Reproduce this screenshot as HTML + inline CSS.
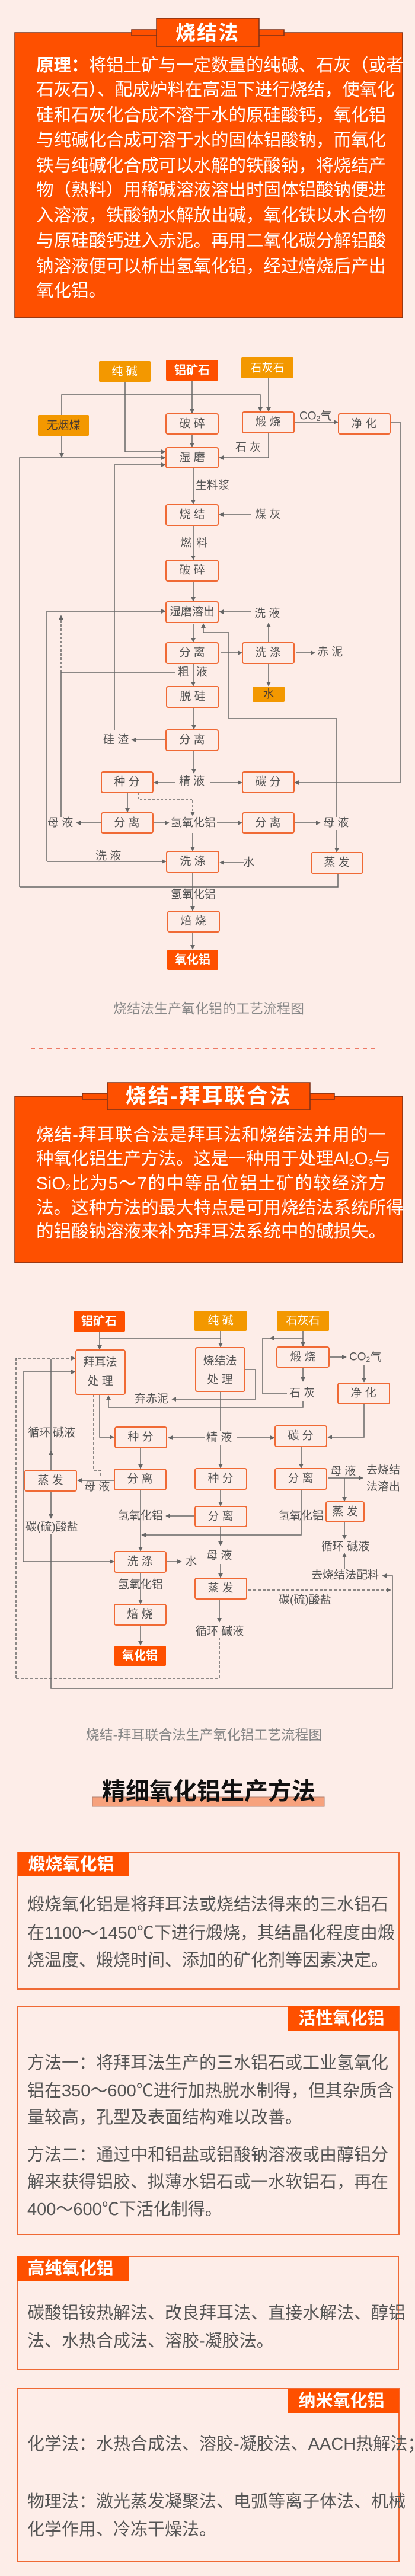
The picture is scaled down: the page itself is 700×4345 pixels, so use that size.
<!DOCTYPE html>
<html><head><meta charset="utf-8">
<style>
html,body{margin:0;padding:0;}
body{width:700px;height:4345px;background:#fdede8;position:relative;overflow:hidden;font-family:"Liberation Sans","Noto Sans CJK SC",sans-serif;}
svg{position:absolute;left:0;top:0;}
.l{position:absolute;white-space:nowrap;text-align:justify;text-align-last:justify;}
.w{color:#fff;font-size:29.5px;height:42px;line-height:42px;left:61px;width:590px;}
.g{color:#555;font-size:29px;height:46px;line-height:46px;left:46px;width:609px;}
.n{text-align:left;text-align-last:left;}
</style></head><body>
<svg width="700" height="4345" viewBox="0 0 700 4345" font-family="Liberation Sans, Noto Sans CJK SC, sans-serif">
<defs>
<marker id="a" viewBox="0 0 10 10" refX="9" refY="5" markerWidth="8" markerHeight="8" markerUnits="userSpaceOnUse" orient="auto"><path d="M0,0 L10,5 L0,10 z" fill="#666"/></marker>
</defs>
<!-- Section 1 -->
<rect x="25" y="55" width="654" height="481" fill="#fe5000" stroke="#7a3018" stroke-width="1.5"/>
<rect x="222" y="50" width="257" height="10" fill="#fe5000" stroke="#7a3018" stroke-width="1.5"/>
<rect x="264" y="31" width="173" height="48" fill="#fe5000" stroke="#7a3018" stroke-width="1.5"/>
<text x="350" y="56" font-size="34" font-weight="bold" fill="#fff" text-anchor="middle" dominant-baseline="central" letter-spacing="2">烧结法</text>

<g stroke="#666" stroke-width="1.5" fill="none">
<!-- flowchart 1 lines -->
<path d="M324 642V697" marker-end="url(#a)"/>
<path d="M453 638V694" marker-end="url(#a)"/>
<path d="M104 700V666H439V694" marker-end="url(#a)"/>
<path d="M211 644V762H279" marker-end="url(#a)"/>
<path d="M104 735V771" marker-end="url(#a)"/>
<path d="M33 1496V772H279" marker-end="url(#a)"/>
<path d="M324 732V754" marker-end="url(#a)"/>
<path d="M496 712H570" marker-end="url(#a)"/>
<path d="M453 730V772H370" marker-end="url(#a)"/>
<path d="M658 712H675V1320H497" marker-end="url(#a)"/>
<path d="M193 1232V784H279" marker-end="url(#a)"/>
<path d="M326 789V850" marker-end="url(#a)"/>
<path d="M423 868H370" marker-end="url(#a)"/>
<path d="M326 886V944" marker-end="url(#a)"/>
<path d="M326 980V1014" marker-end="url(#a)"/>
<path d="M423 1032H370" marker-end="url(#a)"/>
<path d="M326 1052V1083" marker-end="url(#a)"/>
<path d="M79 1453V1031H279" marker-end="url(#a)"/>
<path d="M79 1453H280" marker-end="url(#a)"/>
<path d="M103 1134V1038" stroke-dasharray="4,3" marker-end="url(#a)"/>
<path d="M103 1134V1378"/>
<path d="M103 1134H295"/>
<path d="M326 1119V1157" marker-end="url(#a)"/>
<path d="M373 1101H408" marker-end="url(#a)"/>
<path d="M500 1101H531" marker-end="url(#a)"/>
<path d="M453 1084V1051" marker-end="url(#a)"/>
<path d="M453 1119V1157" marker-end="url(#a)"/>
<path d="M568 1378V1212H386V1067H343V1052" marker-end="url(#a)"/>
<path d="M568 1400V1437" marker-end="url(#a)"/>
<path d="M327 1193V1230" marker-end="url(#a)"/>
<path d="M279 1248H222" marker-end="url(#a)"/>
<path d="M327 1266V1304" marker-end="url(#a)"/>
<path d="M296 1320H260" marker-end="url(#a)"/>
<path d="M354 1320H408" marker-end="url(#a)"/>
<path d="M215 1337V1370" marker-end="url(#a)"/>
<path d="M233 1337V1348H325V1376" stroke-dasharray="4,3" marker-end="url(#a)"/>
<path d="M171 1388H129" marker-end="url(#a)"/>
<path d="M259 1388H285" marker-end="url(#a)"/>
<path d="M366 1388H408" marker-end="url(#a)"/>
<path d="M497 1388H540" marker-end="url(#a)"/>
<path d="M325 1405V1435" marker-end="url(#a)"/>
<path d="M412 1455H371" marker-end="url(#a)"/>
<path d="M325 1471V1536" marker-end="url(#a)"/>
<path d="M33 1496H570V1473"/>
<path d="M325 1572V1601" marker-end="url(#a)"/>
</g>

<g font-size="19" fill="#555" dominant-baseline="central">
<text x="505" y="702">CO<tspan font-size="12" dy="4">2</tspan><tspan dy="-4">气</tspan></text>
<text x="397" y="755">石 灰</text>
<text x="330" y="819">生料浆</text>
<text x="430" y="868">煤 灰</text>
<text x="304" y="916">燃</text><text x="331" y="916">料</text>
<text x="429" y="1035">洗 液</text>
<text x="535" y="1100">赤 泥</text>
<text x="300" y="1134">粗</text><text x="331" y="1134">液</text>
<text x="174" y="1248">硅 渣</text>
<text x="302" y="1318">精 液</text>
<text x="80" y="1388">母 液</text>
<text x="288" y="1388">氢氧化铝</text>
<text x="545" y="1388">母 液</text>
<text x="161" y="1444">洗 液</text>
<text x="410" y="1455">水</text>
<text x="288" y="1509">氢氧化铝</text>
</g>

<g stroke="#f06a35" stroke-width="2" fill="#fdede8">
<rect x="280" y="698" width="88" height="34" rx="3"/>
<rect x="409" y="695" width="87" height="35" rx="3"/>
<rect x="571" y="698" width="87" height="34" rx="3"/>
<rect x="280" y="755" width="88" height="34" rx="3"/>
<rect x="280" y="851" width="88" height="35" rx="3"/>
<rect x="280" y="945" width="88" height="35" rx="3"/>
<rect x="280" y="1015" width="88" height="35" rx="3"/>
<rect x="280" y="1084" width="88" height="35" rx="3"/>
<rect x="409" y="1084" width="87" height="35" rx="3"/>
<rect x="281" y="1158" width="88" height="35" rx="3"/>
<rect x="280" y="1231" width="88" height="35" rx="3"/>
<rect x="171" y="1302" width="87" height="35" rx="3"/>
<rect x="409" y="1302" width="87" height="35" rx="3"/>
<rect x="171" y="1371" width="87" height="34" rx="3"/>
<rect x="409" y="1371" width="87" height="34" rx="3"/>
<rect x="281" y="1436" width="88" height="35" rx="3"/>
<rect x="525" y="1438" width="87" height="35" rx="3"/>
<rect x="283" y="1537" width="87" height="35" rx="3"/>
</g>
<rect x="167" y="609" width="87" height="35" rx="2" fill="#f39800"/>
<rect x="280" y="607" width="88" height="35" rx="2" fill="#fe5000"/>
<rect x="407" y="603" width="88" height="35" rx="2" fill="#f39800"/>
<rect x="64" y="700" width="86" height="35" rx="2" fill="#f39800"/>
<rect x="426" y="1158" width="54" height="26" rx="2" fill="#f39800"/>
<rect x="282" y="1602" width="86" height="34" rx="2" fill="#fe5000"/>
<g font-size="19" text-anchor="middle" dominant-baseline="central" fill="#555">
<text x="210" y="627" fill="#fff">纯 碱</text>
<text x="324" y="625" fill="#fff" font-weight="bold" font-size="20">铝矿石</text>
<text x="451" y="621" fill="#fff">石灰石</text>
<text x="107" y="718" fill="#4a3a30">无烟煤</text>
<text x="453" y="1171" fill="#4a3a30">水</text>
<text x="325" y="1619" fill="#fff" font-weight="bold" font-size="20">氧化铝</text>
<text x="324" y="715">破 碎</text>
<text x="452" y="712">煅 烧</text>
<text x="614" y="715">净 化</text>
<text x="324" y="772">湿 磨</text>
<text x="324" y="868">烧 结</text>
<text x="324" y="962">破 碎</text>
<text x="324" y="1032">湿磨溶出</text>
<text x="324" y="1101">分 离</text>
<text x="452" y="1101">洗 涤</text>
<text x="325" y="1175">脱 硅</text>
<text x="324" y="1248">分 离</text>
<text x="214" y="1319">种 分</text>
<text x="452" y="1319">碳 分</text>
<text x="214" y="1388">分 离</text>
<text x="452" y="1388">分 离</text>
<text x="325" y="1453">洗 涤</text>
<text x="568" y="1455">蒸 发</text>
<text x="326" y="1554">焙 烧</text>
</g>
<text x="352" y="1701" font-size="23" fill="#888" text-anchor="middle" dominant-baseline="central">烧结法生产氧化铝的工艺流程图</text>

<line x1="52" y1="1769" x2="634" y2="1769" stroke="#e8553a" stroke-width="1.5" stroke-dasharray="7,7"/>

<!-- Section 2 -->
<rect x="25" y="1849" width="654" height="281" fill="#fe5000" stroke="#7a3018" stroke-width="1.5"/>
<rect x="139" y="1844" width="425" height="10" fill="#fe5000" stroke="#7a3018" stroke-width="1.5"/>
<rect x="181" y="1826" width="342" height="46" fill="#fe5000" stroke="#7a3018" stroke-width="1.5"/>
<text x="352" y="1849" font-size="35" font-weight="bold" fill="#fff" text-anchor="middle" dominant-baseline="central" letter-spacing="3">烧结-拜耳联合法</text>

<g stroke="#666" stroke-width="1.5" fill="none">
<path d="M168 2246V2276" marker-end="url(#a)"/>
<path d="M168 2257H372"/>
<path d="M372 2244V2272" marker-end="url(#a)"/>
<path d="M511 2244V2271" marker-end="url(#a)"/>
<path d="M511 2257H455" marker-end="url(#a)"/>
<path d="M455 2257H443V2351H484"/>
<path d="M511 2306V2330" marker-end="url(#a)"/>
<path d="M511 2363V2374H183V2354" marker-end="url(#a)"/>
<path d="M557 2289H584" marker-end="url(#a)"/>
<path d="M614 2303V2331" marker-end="url(#a)"/>
<path d="M614 2368V2424H553" marker-end="url(#a)"/>
<path d="M413 2310H431V2360H290" marker-end="url(#a)"/>
<path d="M27 2831V2291H127" stroke-dasharray="5,3" marker-end="url(#a)"/>
<path d="M27 2831H370V2763" stroke-dasharray="5,3"/>
<path d="M39 2634V2314H127" marker-end="url(#a)"/>
<path d="M39 2634H192" marker-end="url(#a)"/>
<path d="M86 2480V2447" marker-end="url(#a)"/>
<path d="M86 2450V2293"/>
<path d="M168 2352V2424H192" marker-end="url(#a)"/>
<path d="M158 2352V2480H170V2490" stroke-dasharray="5,3"/>
<path d="M372 2347V2413"/>
<path d="M345 2425H284" marker-end="url(#a)"/>
<path d="M400 2425H463" marker-end="url(#a)"/>
<path d="M372 2437V2476" marker-end="url(#a)"/>
<path d="M237 2442V2477" marker-end="url(#a)"/>
<path d="M508 2440V2476" marker-end="url(#a)"/>
<path d="M193 2497H131" marker-end="url(#a)"/>
<path d="M553 2493H612" marker-end="url(#a)"/>
<path d="M581 2493V2532" marker-end="url(#a)"/>
<path d="M86 2515V2561" marker-end="url(#a)"/>
<path d="M86 2588V2848H662V2658H645" marker-end="url(#a)"/>
<path d="M237 2513V2616" marker-end="url(#a)"/>
<path d="M329 2557H280" marker-end="url(#a)"/>
<path d="M372 2512V2540" marker-end="url(#a)"/>
<path d="M508 2512V2589H239" marker-end="url(#a)"/>
<path d="M581 2567V2596" marker-end="url(#a)"/>
<path d="M581 2646V2620" marker-end="url(#a)"/>
<path d="M372 2575V2607" marker-end="url(#a)"/>
<path d="M372 2638V2661" marker-end="url(#a)"/>
<path d="M281 2634H306" marker-end="url(#a)"/>
<path d="M237 2652V2705" marker-end="url(#a)"/>
<path d="M419 2682H659" stroke-dasharray="5,3" marker-end="url(#a)"/>
<path d="M370 2697V2736" marker-end="url(#a)"/>
<path d="M237 2741V2775" marker-end="url(#a)"/>
</g>
<g font-size="19" fill="#555" dominant-baseline="central">
<text x="589" y="2289">CO<tspan font-size="12" dy="4">2</tspan><tspan dy="-4">气</tspan></text>
<text x="488" y="2350">石 灰</text>
<text x="227" y="2360">弃赤泥</text>
<text x="47" y="2417">循环</text><text x="89" y="2417">碱液</text>
<text x="348" y="2425">精 液</text>
<text x="142" y="2508">母 液</text>
<text x="557" y="2482">母 液</text>
<text x="618" y="2480">去烧结</text>
<text x="618" y="2508">法溶出</text>
<text x="43" y="2576">碳(硫)酸盐</text>
<text x="199" y="2557">氢氧化铝</text>
<text x="470" y="2557">氢氧化铝</text>
<text x="542" y="2609">循环 碱液</text>
<text x="525" y="2657">去烧结法配料</text>
<text x="348" y="2624">母 液</text>
<text x="313" y="2634">水</text>
<text x="199" y="2673">氢氧化铝</text>
<text x="470" y="2699">碳(硫)酸盐</text>
<text x="330" y="2752">循环 碱液</text>
</g>
<g stroke="#f06a35" stroke-width="2" fill="#fdede8">
<rect x="128" y="2277" width="83" height="75" rx="3"/>
<rect x="330" y="2273" width="83" height="74" rx="3"/>
<rect x="467" y="2272" width="88" height="34" rx="3"/>
<rect x="570" y="2333" width="87" height="35" rx="3"/>
<rect x="194" y="2407" width="87" height="35" rx="3"/>
<rect x="464" y="2405" width="87" height="35" rx="3"/>
<rect x="193" y="2478" width="87" height="35" rx="3"/>
<rect x="329" y="2477" width="87" height="35" rx="3"/>
<rect x="464" y="2477" width="87" height="35" rx="3"/>
<rect x="42" y="2480" width="87" height="35" rx="3"/>
<rect x="329" y="2541" width="87" height="34" rx="3"/>
<rect x="550" y="2533" width="64" height="34" rx="3"/>
<rect x="193" y="2617" width="87" height="35" rx="3"/>
<rect x="329" y="2662" width="87" height="35" rx="3"/>
<rect x="193" y="2706" width="87" height="35" rx="3"/>
</g>
<rect x="124" y="2212" width="87" height="34" rx="2" fill="#fe5000"/>
<rect x="328" y="2211" width="88" height="34" rx="2" fill="#f39800"/>
<rect x="467" y="2211" width="88" height="34" rx="2" fill="#f39800"/>
<rect x="193" y="2776" width="87" height="34" rx="2" fill="#fe5000"/>
<g font-size="19" text-anchor="middle" dominant-baseline="central" fill="#555">
<text x="167" y="2229" fill="#fff" font-weight="bold" font-size="20">铝矿石</text>
<text x="372" y="2228" fill="#fff">纯 碱</text>
<text x="511" y="2228" fill="#fff">石灰石</text>
<text x="236" y="2793" fill="#fff" font-weight="bold" font-size="20">氧化铝</text>
<text x="169" y="2298">拜耳法</text>
<text x="169" y="2330">处 理</text>
<text x="371" y="2296">烧结法</text>
<text x="371" y="2327">处 理</text>
<text x="511" y="2289">煅 烧</text>
<text x="613" y="2350">净 化</text>
<text x="237" y="2424">种 分</text>
<text x="507" y="2422">碳 分</text>
<text x="236" y="2495">分 离</text>
<text x="372" y="2494">种 分</text>
<text x="507" y="2494">分 离</text>
<text x="85" y="2497">蒸 发</text>
<text x="372" y="2558">分 离</text>
<text x="582" y="2550">蒸 发</text>
<text x="236" y="2634">洗 涤</text>
<text x="372" y="2679">蒸 发</text>
<text x="236" y="2723">焙 烧</text>
</g>
<text x="344" y="2926" font-size="23" fill="#888" text-anchor="middle" dominant-baseline="central">烧结-拜耳联合法生产氧化铝工艺流程图</text>

<!-- Section 3 -->
<rect x="156" y="3031" width="391" height="16" fill="#f7a27d" stroke="#b08070" stroke-width="1"/>
<text x="352" y="3022" font-size="40" font-weight="bold" fill="#111" text-anchor="middle" dominant-baseline="central">精细氧化铝生产方法</text>

<rect x="30" y="3124" width="643" height="231" fill="none" stroke="#f06a35" stroke-width="2"/>
<rect x="30" y="3124" width="187" height="41" fill="#fe5000"/>
<text x="120" y="3145" font-size="29" font-weight="bold" fill="#fff" text-anchor="middle" dominant-baseline="central">煅烧氧化铝</text>

<rect x="30" y="3384" width="643" height="385" fill="none" stroke="#f06a35" stroke-width="2"/>
<rect x="486" y="3384" width="187" height="42" fill="#fe5000"/>
<text x="576" y="3405" font-size="29" font-weight="bold" fill="#fff" text-anchor="middle" dominant-baseline="central">活性氧化铝</text>

<rect x="29" y="3806" width="643" height="191" fill="none" stroke="#f06a35" stroke-width="2"/>
<rect x="29" y="3806" width="188" height="41" fill="#fe5000"/>
<text x="119" y="3827" font-size="29" font-weight="bold" fill="#fff" text-anchor="middle" dominant-baseline="central">高纯氧化铝</text>

<rect x="30" y="4029" width="643" height="292" fill="none" stroke="#f06a35" stroke-width="2"/>
<rect x="485" y="4029" width="188" height="41" fill="#fe5000"/>
<text x="576" y="4050" font-size="29" font-weight="bold" fill="#fff" text-anchor="middle" dominant-baseline="central">纳米氧化铝</text>
</svg>

<div class="l w" style="top:90px"><b>原理：</b>将铝土矿与一定数量的纯碱、石灰（或者</div>
<div class="l w" style="top:131px">石灰石）、配成炉料在高温下进行烧结，使氧化</div>
<div class="l w" style="top:174px">硅和石灰化合成不溶于水的原硅酸钙，氧化铝</div>
<div class="l w" style="top:216px">与纯碱化合成可溶于水的固体铝酸钠，而氧化</div>
<div class="l w" style="top:259px">铁与纯碱化合成可以水解的铁酸钠，将烧结产</div>
<div class="l w" style="top:300px">物（熟料）用稀碱溶液溶出时固体铝酸钠便进</div>
<div class="l w" style="top:343px">入溶液，铁酸钠水解放出碱，氧化铁以水合物</div>
<div class="l w" style="top:386px">与原硅酸钙进入赤泥。再用二氧化碳分解铝酸</div>
<div class="l w" style="top:429px">钠溶液便可以析出氢氧化铝，经过焙烧后产出</div>
<div class="l w n" style="top:470px">氧化铝。</div>

<div class="l w" style="top:1894px">烧结-拜耳联合法是拜耳法和烧结法并用的一</div>
<div class="l w" style="top:1934px">种氧化铝生产方法。这是一种用于处理Al<sub style="font-size:16px;vertical-align:-2px">2</sub>O<sub style="font-size:16px;vertical-align:-2px">3</sub>与</div>
<div class="l w" style="top:1976px">SiO<sub style="font-size:16px;vertical-align:-2px">2</sub>比为5～7的中等品位铝土矿的较经济方</div>
<div class="l w" style="top:2017px">法。这种方法的最大特点是可用烧结法系统所得</div>
<div class="l w n" style="top:2057px">的铝酸钠溶液来补充拜耳法系统中的碱损失。</div>

<div class="l g" style="top:3190px">煅烧氧化铝是将拜耳法或烧结法得来的三水铝石</div>
<div class="l g" style="top:3238px">在1100～1450℃下进行煅烧，其结晶化程度由煅</div>
<div class="l g n" style="top:3284px">烧温度、煅烧时间、添加的矿化剂等因素决定。</div>

<div class="l g" style="top:3457px">方法一：将拜耳法生产的三水铝石或工业氢氧化</div>
<div class="l g" style="top:3504px">铝在350～600℃进行加热脱水制得，但其杂质含</div>
<div class="l g n" style="top:3549px">量较高，孔型及表面结构难以改善。</div>
<div class="l g" style="top:3612px">方法二：通过中和铝盐或铝酸钠溶液或由醇铝分</div>
<div class="l g" style="top:3658px">解来获得铝胶、拟薄水铝石或一水软铝石，再在</div>
<div class="l g n" style="top:3704px">400～600℃下活化制得。</div>

<div class="l g" style="top:3879px">碳酸铝铵热解法、改良拜耳法、直接水解法、醇铝</div>
<div class="l g n" style="top:3926px">法、水热合成法、溶胶-凝胶法。</div>

<div class="l g" style="top:4100px;width:600px">化学法：水热合成法、溶胶-凝胶法、AACH热解法；</div>
<div class="l g" style="top:4197px">物理法：激光蒸发凝聚法、电弧等离子体法、机械</div>
<div class="l g n" style="top:4244px">化学作用、冷冻干燥法。</div>
</body></html>
